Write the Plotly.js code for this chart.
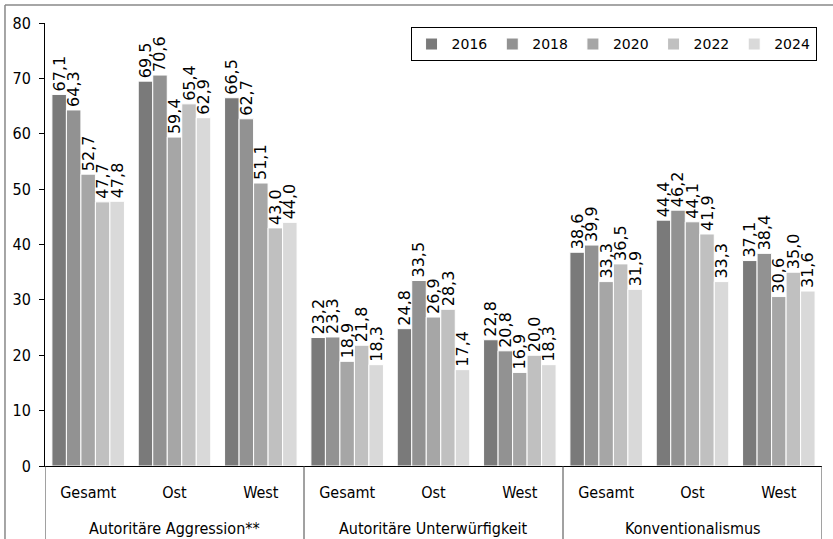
<!DOCTYPE html>
<html>
<head>
<meta charset="utf-8">
<script src="https://cdn.plot.ly/plotly-3.0.1.min.js"></script>
<style>html,body{margin:0;padding:0;background:#fff;}#chart{width:833px;height:539px;}</style>
</head>
<body>
<div id="chart"></div>
<script>
const groups = ["Autoritäre Aggression**", "Autoritäre Unterwürfigkeit", "Konventionalismus"];
const subgroups = ["Gesamt", "Ost", "West"];
const years = ["2016", "2018", "2020", "2022", "2024"];
const colors = ["#7a7a7a", "#929292", "#a6a6a6", "#c0c0c0", "#d9d9d9"];

const v2016 = [67.1, 69.5, 66.5, 23.2, 24.8, 22.8, 38.6, 44.4, 37.1];
const v2018 = [64.3, 70.6, 62.7, 23.3, 33.5, 20.8, 39.9, 46.2, 38.4];
const v2020 = [52.7, 59.4, 51.1, 18.9, 26.9, 16.9, 33.3, 44.1, 30.6];
const v2022 = [47.7, 65.4, 43.0, 21.8, 28.3, 20.0, 36.5, 41.9, 35.0];
const v2024 = [47.8, 62.9, 44.0, 18.3, 17.4, 18.3, 31.9, 33.3, 31.6];
const series = [v2016, v2018, v2020, v2022, v2024];

const condensed = "DejaVu Sans Condensed, Liberation Sans Narrow, Arial Narrow, sans-serif";

const keys = [], tickText = [];
groups.forEach(g => subgroups.forEach(s => { keys.push(g + "|" + s); tickText.push(s); }));

const traces = series.map((vals, i) => ({
  type: "bar",
  name: years[i],
  x: keys,
  y: vals,
  marker: {color: colors[i], line: {color: "#ffffff", width: 1}},
  texttemplate: "%{y:.1f}",
  textposition: "outside",
  textangle: -90,
  constraintext: "none",
  cliponaxis: false,
  textfont: {family: "DejaVu Sans", size: 16, color: "#000"},
  hoverinfo: "skip"
}));

const shapes = [
  {type: "line", xref: "paper", yref: "paper", x0: -0.0515, x1: -0.0515, y0: 1.0406, y1: -0.3, line: {color: "#888", width: 1.5}},
  {type: "line", xref: "paper", yref: "paper", x0: -0.0515, x1: 1.1, y0: 1.0406, y1: 1.0406, line: {color: "#888", width: 1.5}}
];
for (let g = 0; g <= groups.length; g++) {
  shapes.push({type: "line", xref: "x", yref: "paper", x0: g * 3 - 0.5, x1: g * 3 - 0.5, y0: 0, y1: -0.3,
    line: {color: "#444", width: 1}});
}

const annotations = groups.map((g, gi) => ({
  xref: "x", yref: "paper", x: gi * 3 + 1, y: -0.14, yanchor: "middle", xanchor: "center",
  text: g, showarrow: false,
  font: {family: condensed, size: 16, color: "#000"}
}));

const layout = {
  width: 833, height: 539,
  margin: {l: 45, r: 11, t: 23, b: 73, autoexpand: false},
  paper_bgcolor: "#fff", plot_bgcolor: "#fff",
  separators: ",.",
  barmode: "group",
  bargap: 0.16,
  bargroupgap: 0,
  showlegend: true,
  legend: {
    orientation: "h", x: 0.993, y: 0.99, xanchor: "right", yanchor: "top",
    bordercolor: "#000", borderwidth: 1, bgcolor: "#fff",
    font: {family: "DejaVu Sans", size: 14, color: "#000"}
  },
  xaxis: {
    type: "category",
    range: [-0.5, 8.5],
    tickvals: keys, ticktext: tickText,
    showline: true, linecolor: "#000", linewidth: 1,
    ticks: "", showgrid: false,
    ticklabelstandoff: 12,
    tickfont: {family: condensed, size: 16, color: "#000"}
  },
  yaxis: {
    range: [0, 80], dtick: 10, tick0: 0,
    showline: true, linecolor: "#000", linewidth: 1,
    ticks: "outside", ticklen: 5, tickcolor: "#000",
    ticklabelstandoff: 5,
    showgrid: false, zeroline: false,
    tickfont: {family: condensed, size: 16, color: "#000"}
  },
  shapes: shapes,
  annotations: annotations
};

Plotly.newPlot("chart", traces, layout, {displayModeBar: false, staticPlot: true});
</script>
</body>
</html>
